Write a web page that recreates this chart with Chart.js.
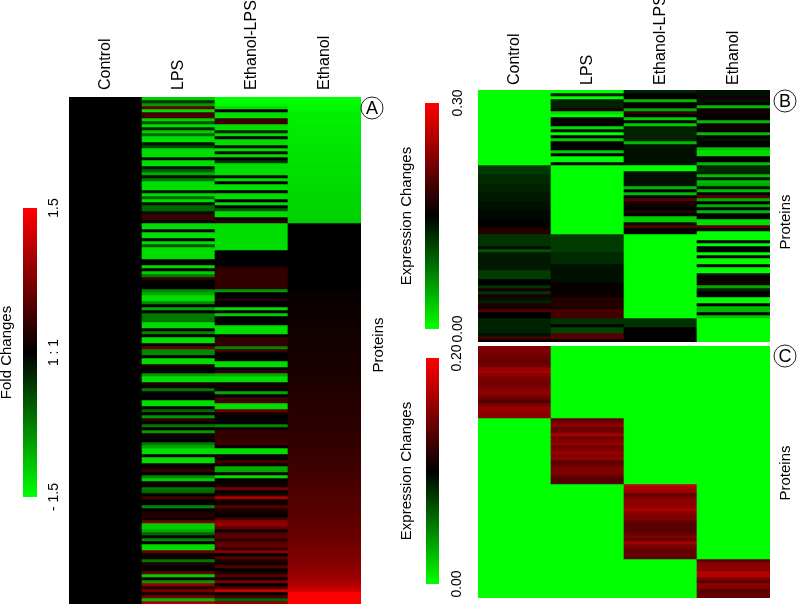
<!DOCTYPE html>
<html>
<head>
<meta charset="utf-8">
<title>Protein heatmaps</title>
<script src="https://cdn.jsdelivr.net/npm/chart.js@4"></script>
<style>
  html, body { margin: 0; padding: 0; background: #fff; overflow: hidden; }
  body { width: 800px; height: 606px; position: relative; font-family: "Liberation Sans", Arial, sans-serif; color: #000; }
  canvas { position: absolute; }
  .side { position: absolute; font-size: 15px; line-height: 16px; writing-mode: vertical-rl; transform: translate(-50%, -50%) rotate(180deg); white-space: nowrap; }
  .badge { position: absolute; width: 21px; height: 21px; border: 1px solid #222; border-radius: 50%; font-size: 18px; line-height: 21px; text-align: center; transform: translate(-50%, -50%); }
</style>
</head>
<body>
<canvas id="barA" style="left:-2px;top:190px" width="72" height="325"></canvas>
<canvas id="heatA" style="left:69px;top:0" width="292" height="604"></canvas>
<canvas id="barB" style="left:398px;top:85px" width="82" height="262"></canvas>
<canvas id="heatB" style="left:478px;top:0" width="292" height="342"></canvas>
<canvas id="barC" style="left:398px;top:340px" width="82" height="262"></canvas>
<canvas id="heatC" style="left:478px;top:346px" width="292" height="252"></canvas>
<div class="side" style="left:378px;top:345px">Proteins</div>
<div class="side" style="left:785px;top:222px">Proteins</div>
<div class="side" style="left:785px;top:473px">Proteins</div>
<div class="badge" style="left:372px;top:108px">A</div>
<div class="badge" style="left:785px;top:101px">B</div>
<div class="badge" style="left:785px;top:356px">C</div>
<script>
const groups = ["Control", "LPS", "Ethanol-LPS", "Ethanol"];

// Panel A, fold changes, top row first
const aControl = [
  0,0,0,0,0,0,0,0,0,0, 0,0,0,0,0,0,0,0,0,0, 0,0,0,0,0,0,0,0,0,0, 0,0,0,0,0,0,0,0,0,0,
  0,0,0,0,0,0,0,0,0,0, 0,0,0,0,0,0,0,0,0,0, 0,0,0,0,0,0,0,0,0,0, 0,0,0,0,0,0,0,0,0,0,
  0,0,0,0,0,0,0,0,0,0, 0,0,0,0,0,0,0,0,0,0, 0,0,0,0,0,0,0,0,0,0, 0,0,0,0,0,0,0,0,0,0,
  0,0,0,0,0,0,0,0,0,0, 0,0,0,0,0,0,0,0,0,0, 0,0,0,0,0,0,0,0,0,0, 0,0,0,0,0,0,0,0,0,0,
  0,0,0,0,0,0,0,0,0,
];
const aLps = [
  -1.2,-0.3,-0.9,0.6,-1.3,0.4,0.4,-1.2,-0.5,-1.3,
  -0.2,-1.2,-0.6,-1.3,-1.3,-0.1,-0.4,-1.3,-1.3,-1.3,
  -0.1,-1.3,-1.3,-0.1,-0.6,-1.0,-0.1,-0.7,-1.3,-1.3,
  -1.3,-0.1,-1.3,-0.6,-1.3,-0.1,-0.6,-0.6,-0.1,0.35,
  0.35,0,-1.3,-1.3,0,-1.3,-1.3,0,-1.3,-0.5,
  -1.3,-1.3,-1.3,-1.3,0,0,-1.3,0,-1.2,-0.7,
  0.3,0,0,0,-0.8,-1.0,-1.3,-1.3,-0.8,0,
  -1.0,0,-0.7,-0.7,-0.7,-1.3,-1.3,0,-0.8,0,
  -1.3,-1.3,0,0.6,-0.8,-0.8,0,-1.3,-1.3,0.2,
  0,0,-0.9,-1.3,-1.3,0.2,0,-0.7,0,0,
  0,-1.3,-1.3,0,-0.6,0,-0.9,0.25,0,-0.7,
  0,-0.9,0.1,0.1,0,-0.7,-1.0,-1.3,-1.3,0.1,
  -1.3,-1.3,0,0.1,0.35,0,-0.8,-1.2,0.05,0.1,
  -0.7,-0.6,0,0.4,0,0,-0.8,0,0.2,0.2,
  0.1,0.7,-1.2,-1.2,-1.0,-0.6,0.1,-0.8,0,-1.3,
  -1.3,0.6,0.1,0.1,-0.7,0.2,0,0.05,0.6,-1.2,
  0.1,-0.9,0.9,0.2,0.7,0.1,0.7,-1.1,1.0,
];
const aEthanolLps = [
  -1.5,-1.5,-1.45,-1.3,0,-1.3,-1.3,0.35,0.35,-1.3,
  -1.3,-0.2,-1.3,0,-1.3,-1.3,-0.1,-1.3,-0.1,-1.3,
  0,-0.3,-1.3,-1.3,-1.3,-1.3,-0.1,-1.3,0,-1.3,
  -1.3,0,-1.3,-1.3,0,-1.3,0,-0.5,-1.3,-1.3,
  0.1,0.25,-1.3,-1.3,-1.3,-1.3,-1.3,-1.3,-1.3,-1.3,
  -1.3,0,0,0,0,0,0.15,0.3,0.3,0.3,
  0.3,0.3,0.3,0.3,-0.9,0,0,0.2,0,0,
  -1.3,0.05,-1.2,0,0,0,-1.3,-1.3,-1.3,0.05,
  0.3,0.3,0.3,-0.8,0.4,0,0,0,-1.3,-1.3,
  0,0.3,-1.0,-1.3,-1.3,0.1,0.1,0,-1.0,0,
  0.4,0.4,-1.3,-1.3,0.6,0.1,0,0,0,-0.8,
  0.1,0.3,0.3,0.3,0.3,0.4,0,-1.3,-1.3,0.1,
  0.05,0.4,0.1,-1.0,-1.0,0.05,-1.3,0.05,0.05,0.1,
  0.7,0,0.2,1.0,0.1,0.1,0.5,0.2,0.1,0,
  0.4,0.8,0.85,0.6,0.1,0.5,0.5,0.3,0.5,0.6,
  0.3,0.8,0,0.5,0.2,0.1,0.5,0,0.2,0.5,
  0.1,0.7,0,0.4,1.2,0,0.4,-0.6,0.8,
];
const aEthanol = [
  -1.5,-1.5,-1.48,-1.46,-1.44,-1.42,-1.41,-1.4,-1.4,-1.39,
  -1.38,-1.38,-1.37,-1.37,-1.36,-1.36,-1.35,-1.35,-1.34,-1.34,
  -1.33,-1.33,-1.32,-1.32,-1.31,-1.31,-1.3,-1.3,-1.29,-1.29,
  -1.28,-1.28,-1.27,-1.27,-1.26,-1.26,-1.25,-1.25,-1.24,-1.24,
  -1.23,-1.22,0,0,0,0,0,0,0,0,
  0,0,0,0,0,0,0,0,0,0,
  0,0,0,0,0.04,0.05,0.05,0.06,0.06,0.07,
  0.07,0.08,0.08,0.08,0.09,0.09,0.1,0.1,0.1,0.11,
  0.11,0.12,0.12,0.12,0.13,0.13,0.14,0.14,0.15,0.15,
  0.16,0.16,0.17,0.17,0.18,0.18,0.19,0.19,0.2,0.2,
  0.21,0.21,0.22,0.22,0.23,0.24,0.24,0.25,0.25,0.26,
  0.27,0.27,0.28,0.29,0.3,0.3,0.31,0.32,0.33,0.34,
  0.34,0.35,0.36,0.37,0.38,0.39,0.4,0.41,0.42,0.43,
  0.44,0.45,0.46,0.47,0.48,0.49,0.5,0.51,0.52,0.53,
  0.55,0.56,0.57,0.58,0.6,0.61,0.62,0.64,0.65,0.67,
  0.68,0.7,0.72,0.74,0.76,0.78,0.8,0.83,0.86,0.9,
  0.95,1.0,1.05,1.15,1.25,1.5,1.5,1.5,1.5,
];

// Panel B, expression changes
const bControl = [
  0,0,0,0,0,0,0,0,0,0,
  0,0,0,0,0,0,0,0,0,0,
  0,0,0,0,0,.115,.115,.115,.125,.125,
  .125,.13,.13,.13,.135,.135,.135,.14,.14,.14,
  .145,.145,.145,.15,.15,.155,.17,.17,.12,.12,
  .12,.12,.145,.10,.135,.135,.135,.135,.135,.135,
  .115,.115,.115,.15,.15,.12,.165,.12,.165,.14,
  .13,.17,.16,.20,.15,.15,.13,.13,.13,.13,
  .13,.14,.19,.15,
];
const bLps = [
  0,.13,0,.13,.13,.13,.16,.02,0,.15,
  .15,.15,.02,.14,0,.15,.03,.15,.15,.15,
  .03,.15,0,0,.15,0,0,0,0,0,
  0,0,0,0,0,0,0,0,0,0,
  0,0,0,0,0,0,0,0,.115,.115,
  .115,.115,.115,.115,.125,.125,.125,.125,.14,.14,
  .14,.14,.14,.14,.155,.155,.155,.155,.155,.17,
  .17,.17,.17,.19,.19,.19,.12,.12,.15,.11,
  .11,.2,.2,.15,
];
const bEthanolLps = [
  .13,.15,.15,.04,.15,.15,.05,.18,.15,.03,
  .15,.03,.13,.13,.13,.13,.13,.04,.14,.14,
  .14,.14,.14,.14,.14,0,0,.14,.14,.14,
  .14,.14,.04,.15,.04,.15,.2,.165,.16,.15,
  .17,.15,.03,.03,.14,.2,.15,.15,0,0,
  0,0,0,0,0,0,0,0,0,0,
  0,0,0,0,0,0,0,0,0,0,
  0,0,0,0,0,0,.12,.12,.12,.15,
  .15,.15,.15,.15,
];
const bEthanol = [
  .14,.14,.16,.14,.15,.04,.155,.16,.155,.15,
  .04,.15,.16,.15,.04,.15,.14,.15,.15,.04,
  .02,.02,.15,.15,.04,.125,.125,.13,.04,.14,
  .04,.05,.14,.04,.15,.2,.05,.15,.05,.15,
  .04,.15,.15,.02,.02,.2,.15,0,0,0,
  .15,0,.15,.15,0,.15,0,0,.15,0,
  0,.14,.15,.16,.16,.05,.13,.15,.15,0,
  0,.15,.04,.04,.15,.03,0,0,0,0,
  0,0,0,0,
];

// Panel C, expression changes
const cControl = [
  .15,.15,.145,.145,.14,.14,.145,.16,.165,.155,
  .148,.148,.145,.148,.155,.155,.15,.14,.132,.15,
  .158,.158,.155,.155,0,0,0,0,0,0,
  0,0,0,0,0,0,0,0,0,0,
  0,0,0,0,0,0,0,0,0,0,
  0,0,0,0,0,0,0,0,0,0,
  0,0,0,0,0,0,0,0,0,0,
  0,0,0,0,0,0,0,0,0,0,
  0,0,0,0,
];
const cLps = [
  0,0,0,0,0,0,0,0,0,0,
  0,0,0,0,0,0,0,0,0,0,
  0,0,0,0,.14,.148,.155,.14,.145,.165,
  .145,.15,.158,.145,.15,.158,.15,.158,.135,.14,
  .15,.15,.148,.14,.13,.135,0,0,0,0,
  0,0,0,0,0,0,0,0,0,0,
  0,0,0,0,0,0,0,0,0,0,
  0,0,0,0,0,0,0,0,0,0,
  0,0,0,0,
];
const cEthanolLps = [
  0,0,0,0,0,0,0,0,0,0,
  0,0,0,0,0,0,0,0,0,0,
  0,0,0,0,0,0,0,0,0,0,
  0,0,0,0,0,0,0,0,0,0,
  0,0,0,0,0,0,.175,.165,.16,.14,
  .15,.155,.155,.158,.165,.155,.15,.15,.14,.135,
  .135,.135,.14,.15,.14,.165,.15,.14,.14,.14,
  .135,0,0,0,0,0,0,0,0,0,
  0,0,0,0,
];
const cEthanol = [
  0,0,0,0,0,0,0,0,0,0,
  0,0,0,0,0,0,0,0,0,0,
  0,0,0,0,0,0,0,0,0,0,
  0,0,0,0,0,0,0,0,0,0,
  0,0,0,0,0,0,0,0,0,0,
  0,0,0,0,0,0,0,0,0,0,
  0,0,0,0,0,0,0,0,0,0,
  0,.135,.155,.155,.155,.17,.17,.15,.135,.155,
  .15,.135,.14,.14,
];

// Colour bars
const foldRange = [-1.5, 1.5];
const foldTicks = [-1.5, 0, 1.5];
const foldLabels = ["- 1.5", "1 : 1", "1.5"];
const exprBRange = [0, 0.3];
const exprBTicks = [0, 0.3];
const exprBLabels = ["0.00", "0.30"];
const exprCRange = [0, 0.2];
const exprCTicks = [0, 0.2];
const exprCLabels = ["0.00", "0.20"];

Chart.defaults.font.family = '"Liberation Sans", Arial, sans-serif';
Chart.defaults.color = "#000";

// green - black - red
function heatColor(v, lo, hi) {
  const mid = (lo + hi) / 2;
  const t = Math.min(1, Math.abs(v - mid) / (hi - mid));
  const c = Math.round(255 * t);
  return v >= mid ? `rgb(${c},0,0)` : `rgb(0,${c},0)`;
}

function heatmap(id, cols, range, headerHeight, labelOffset, labelPad) {
  const rows = cols[0].length;
  const datasets = [];
  for (let r = 0; r < rows; r++) {
    datasets.push({
      data: cols.map(() => 1),
      backgroundColor: cols.map((c) => heatColor(c[r], range[0], range[1])),
      barPercentage: 1,
      categoryPercentage: 1,
      borderWidth: 0,
    });
  }
  new Chart(document.getElementById(id), {
    type: "bar",
    data: { labels: groups, datasets: datasets },
    options: {
      responsive: false,
      animation: false,
      layout: { padding: 0 },
      plugins: { legend: { display: false }, tooltip: { enabled: false } },
      scales: {
        x: {
          stacked: true,
          position: "top",
          display: headerHeight > 0,
          grid: { display: false },
          border: { display: false },
          ticks: {
            minRotation: 90,
            maxRotation: 90,
            autoSkip: false,
            padding: labelPad,
            labelOffset: labelOffset,
            font: { size: 16 },
          },
          afterFit: (axis) => { axis.height = headerHeight; },
        },
        y: { stacked: true, display: false, reverse: true, min: 0, max: rows },
      },
    },
  });
}

function colorBar(id, range, ticks, labels, opts) {
  new Chart(document.getElementById(id), {
    type: "bar",
    data: {
      labels: [""],
      datasets: [{
        data: [range],
        yAxisID: "y1",
        barPercentage: 1,
        categoryPercentage: 1,
        borderWidth: 0,
        backgroundColor: (ctx) => {
          const area = ctx.chart.chartArea;
          if (!area) return "#000";
          const g = ctx.chart.ctx.createLinearGradient(0, area.bottom, 0, area.top);
          g.addColorStop(0, "#00ff00");
          g.addColorStop(0.5, "#000000");
          g.addColorStop(1, "#ff0000");
          return g;
        },
      }],
    },
    options: {
      responsive: false,
      animation: false,
      layout: { padding: { top: opts.top, bottom: opts.bottom } },
      plugins: { legend: { display: false }, tooltip: { enabled: false } },
      scales: {
        x: { display: false },
        y: {
          position: "left",
          min: range[0],
          max: range[1],
          grid: { display: false },
          border: { display: false },
          ticks: { display: false },
          title: { display: true, text: opts.title, padding: 0, font: { size: 15 } },
          afterFit: (axis) => { axis.width = opts.left; },
        },
        y1: {
          position: "right",
          min: range[0],
          max: range[1],
          grid: { display: false },
          border: { display: false },
          afterBuildTicks: (axis) => { axis.ticks = ticks.map((v) => ({ value: v })); },
          ticks: {
            minRotation: 90,
            maxRotation: 90,
            autoSkip: false,
            crossAlign: "center",
            padding: opts.tickPad,
            font: { size: 14 },
            callback: (v) => labels[ticks.indexOf(v)],
          },
          afterFit: (axis) => { axis.width = opts.right; },
        },
      },
    },
  });
}

heatmap("heatA", [aControl, aLps, aEthanolLps, aEthanol], foldRange, 97, 19, -1);
heatmap("heatB", [bControl, bLps, bEthanolLps, bEthanol], exprBRange, 90, 19, -3);
heatmap("heatC", [cControl, cLps, cEthanolLps, cEthanol], exprCRange, 0, 0, 0);

colorBar("barA", foldRange, foldTicks, foldLabels, { title: "Fold Changes", top: 18, bottom: 18, left: 25, right: 33, tickPad: -5 });
colorBar("barB", exprBRange, exprBTicks, exprBLabels, { title: "Expression Changes", top: 18, bottom: 18, left: 27, right: 41, tickPad: -2 });
colorBar("barC", exprCRange, exprCTicks, exprCLabels, { title: "Expression Changes", top: 18, bottom: 18, left: 28, right: 41, tickPad: -3 });
</script>
</body>
</html>
